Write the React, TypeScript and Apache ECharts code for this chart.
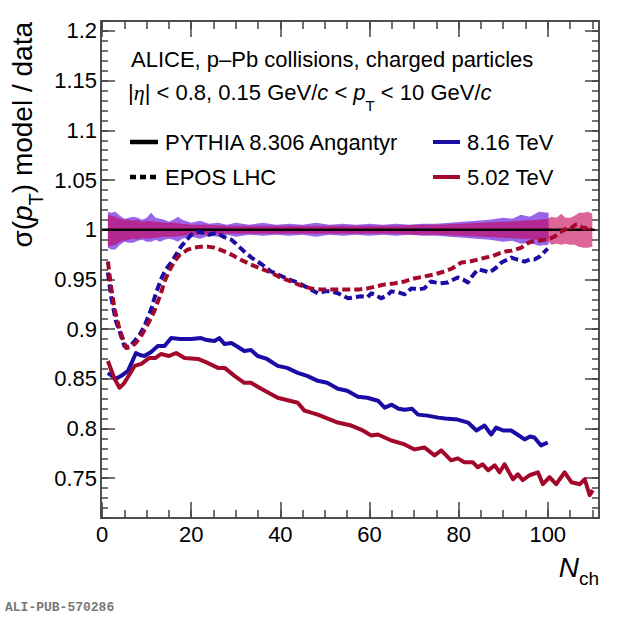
import React, { useEffect, useRef } from 'react';
import * as echarts from 'echarts';

// axis ticks
const xMajorTicks = [0, 20, 40, 60, 80, 100];
const xMinorTicks = [0, 5, 10, 15, 20, 25, 30, 35, 40, 45, 50, 55, 60, 65, 70, 75, 80, 85, 90, 95, 100, 105, 110];
const yMajorTicks = [0.75, 0.8, 0.85, 0.9, 0.95, 1, 1.05, 1.1, 1.15, 1.2];

// PYTHIA 8.306 Angantyr, 8.16 TeV (solid blue)
const pythia816 = [
  [1.3, 0.856], [2.2, 0.853], [3.1, 0.85], [4.3, 0.853], [5.8, 0.858], [6.8, 0.868], [7.6, 0.876],
  [8.5, 0.874], [9.5, 0.873], [11, 0.877], [12.5, 0.883], [14, 0.883], [15.5, 0.891], [17.5, 0.89],
  [20, 0.89], [22.2, 0.891], [23.5, 0.889], [25.2, 0.888], [26.3, 0.891], [27.5, 0.885], [29, 0.886],
  [30.5, 0.882], [31.9, 0.878], [33.4, 0.879], [34.9, 0.873], [37, 0.87], [39.4, 0.863], [41.5, 0.861],
  [43.9, 0.856], [46, 0.853], [48.4, 0.848], [50.5, 0.846], [52.9, 0.84], [55, 0.838], [57.4, 0.832],
  [59.5, 0.831], [61.9, 0.828], [63.4, 0.821], [65, 0.824], [66.5, 0.82], [67.9, 0.819], [69.5, 0.82],
  [70.9, 0.814], [73, 0.813], [75.4, 0.811], [77, 0.81], [79.8, 0.809], [82.1, 0.806], [84, 0.798],
  [85.8, 0.803], [87.3, 0.794], [88.4, 0.801], [90, 0.798], [91.8, 0.798], [93.5, 0.793], [94.8, 0.789],
  [96, 0.792], [97, 0.791], [98.5, 0.783], [100, 0.786],
];

// PYTHIA 8.306 Angantyr, 5.02 TeV (solid red)
const pythia502 = [
  [1.3, 0.868], [2.8, 0.85], [3.9, 0.841], [5, 0.846], [7.3, 0.863], [8.8, 0.865], [10.6, 0.871],
  [12, 0.871], [13.2, 0.875], [15, 0.873], [16.6, 0.876], [18.5, 0.871], [21.5, 0.87], [23.7, 0.866],
  [26, 0.861], [27.5, 0.861], [29.7, 0.853], [31.9, 0.846], [33.4, 0.846], [35.7, 0.84], [39.4, 0.831],
  [43.9, 0.826], [45.4, 0.818], [48.4, 0.814], [52.9, 0.806], [55.9, 0.803], [58.1, 0.799], [60.4, 0.793],
  [61.9, 0.794], [64.9, 0.788], [67.9, 0.784], [70.1, 0.779], [72.3, 0.781], [74.6, 0.773], [76.1, 0.778],
  [78.3, 0.768], [79.8, 0.77], [81.3, 0.766], [83.2, 0.766], [84.3, 0.761], [85.4, 0.764], [86.6, 0.758],
  [88.1, 0.763], [89.2, 0.756], [90.3, 0.764], [92.2, 0.749], [93.3, 0.754], [94.4, 0.748], [95.9, 0.753],
  [97.8, 0.756], [98.9, 0.744], [100.4, 0.751], [101.9, 0.744], [103.8, 0.756], [105.3, 0.746],
  [107.2, 0.744], [108.3, 0.749], [109.4, 0.733], [110.1, 0.738],
];

// EPOS LHC, 8.16 TeV (dashed blue)
const epos816 = [
  [1.3, 0.957], [2, 0.933], [3.1, 0.908], [3.9, 0.898], [5, 0.883], [6, 0.882], [7.3, 0.888], [8.5, 0.895],
  [9.5, 0.903], [11, 0.92], [12, 0.935], [13.2, 0.95], [14.3, 0.96], [15.5, 0.967], [17.7, 0.983], [20, 0.995],
  [21.5, 0.998], [23, 0.997], [24, 0.995], [25.6, 0.997], [27.2, 0.993], [29, 0.99], [30.5, 0.984],
  [31.9, 0.978], [33.5, 0.972], [34.9, 0.968], [36.5, 0.963], [37.9, 0.958], [39.5, 0.955], [40.9, 0.952],
  [42.5, 0.949], [43.9, 0.947], [46, 0.942], [48.4, 0.936], [50, 0.938], [51.4, 0.938], [53, 0.936],
  [55.2, 0.931], [56.5, 0.932], [58.1, 0.933], [59.5, 0.932], [60.4, 0.936], [61.5, 0.934], [62.6, 0.931],
  [64, 0.934], [64.9, 0.938], [66.5, 0.937], [67.9, 0.935], [69.4, 0.941], [71, 0.94], [72.3, 0.941],
  [73.8, 0.948], [75.5, 0.946], [77.6, 0.947], [79.8, 0.952], [81, 0.95], [82.1, 0.947], [83, 0.953],
  [84.3, 0.96], [85.5, 0.959], [86.9, 0.957], [88.2, 0.961], [89.6, 0.967], [91.8, 0.972], [93.2, 0.97],
  [94.8, 0.968], [96, 0.97], [97, 0.97], [98.2, 0.973], [99.3, 0.978], [100, 0.981],
];

// EPOS LHC, 5.02 TeV (dashed red)
const epos502 = [
  [1.3, 0.968], [2, 0.943], [2.8, 0.92], [3.9, 0.9], [5.4, 0.881], [6.3, 0.882], [7.3, 0.885], [8.5, 0.891],
  [9.5, 0.899], [10.6, 0.908], [11.7, 0.918], [13.2, 0.936], [14, 0.948], [15, 0.958], [16.2, 0.968],
  [17.5, 0.975], [19.2, 0.98], [20.7, 0.982], [22.2, 0.983], [23.7, 0.983], [25.2, 0.982], [27, 0.979],
  [29, 0.975], [31, 0.97], [33.4, 0.965], [35.5, 0.961], [37.9, 0.957], [40, 0.952], [42.4, 0.948],
  [44.5, 0.944], [46.9, 0.941], [49, 0.94], [51.4, 0.94], [53.5, 0.94], [55.9, 0.94], [57.8, 0.94],
  [59.6, 0.941], [61.5, 0.943], [63.4, 0.945], [65.5, 0.946], [67.9, 0.948], [70, 0.951], [72.3, 0.953],
  [74.5, 0.955], [76.8, 0.958], [78.5, 0.961], [80.6, 0.967], [82.5, 0.968], [84.3, 0.97], [86, 0.972],
  [87.3, 0.973], [89, 0.976], [90.3, 0.978], [92, 0.979], [94.1, 0.982], [95.3, 0.986], [96.3, 0.988],
  [97.8, 0.989], [99.3, 0.99], [100.5, 0.991], [101.5, 0.993], [102.5, 0.997], [103.8, 1.0], [104.5, 1.003],
  [105.3, 1.002], [106.2, 1.005], [106.8, 1.005], [107.5, 1.003], [108.3, 1.001], [109, 1.004], [109.6, 1.0],
];

// data uncertainty bands around unity
const bandBlueN = [1.3, 2, 3, 4, 5, 6, 7, 8, 9, 10, 11, 12, 13, 14, 15, 16, 17, 18, 20, 22, 24, 26, 28, 30, 33, 36,
  39, 42, 45, 48, 51, 54, 57, 60, 63, 66, 69, 72, 75, 78, 81, 84, 87, 90, 92, 94, 96, 98, 100.2];
const bandBlueHi = [1.018, 1.017, 1.018, 1.014, 1.011, 1.012, 1.013, 1.012, 1.01, 1.012, 1.017, 1.012, 1.011, 1.01,
  1.008, 1.01, 1.013, 1.01, 1.007, 1.009, 1.006, 1.007, 1.005, 1.007, 1.005, 1.007, 1.005, 1.006, 1.005, 1.007,
  1.005, 1.006, 1.005, 1.006, 1.005, 1.006, 1.005, 1.006, 1.006, 1.007, 1.008, 1.009, 1.01, 1.012, 1.011, 1.015,
  1.013, 1.018, 1.017];
const bandBlueLo = [0.982, 0.98, 0.98, 0.985, 0.988, 0.987, 0.987, 0.989, 0.99, 0.988, 0.988, 0.99, 0.988, 0.99,
  0.991, 0.99, 0.988, 0.991, 0.993, 0.991, 0.994, 0.993, 0.995, 0.993, 0.995, 0.994, 0.995, 0.994, 0.995, 0.993,
  0.995, 0.994, 0.995, 0.994, 0.995, 0.994, 0.995, 0.994, 0.994, 0.993, 0.992, 0.991, 0.99, 0.988, 0.989, 0.986,
  0.987, 0.984, 0.985];

const bandRedN = [1.3, 2, 3, 4, 5, 6, 7, 8, 9, 10, 12, 14, 16, 18, 20, 24, 28, 32, 36, 40, 45, 50, 55, 60, 65, 70,
  75, 80, 85, 90, 94, 98, 100, 100.8, 102, 103, 104, 105, 106, 107, 108, 109, 110];
const bandRedHi = [1.015, 1.014, 1.013, 1.011, 1.01, 1.01, 1.009, 1.01, 1.008, 1.009, 1.008, 1.007, 1.007, 1.006,
  1.005, 1.005, 1.004, 1.004, 1.004, 1.004, 1.004, 1.004, 1.004, 1.004, 1.004, 1.005, 1.005, 1.006, 1.007, 1.008,
  1.009, 1.01, 1.011, 1.013, 1.012, 1.016, 1.012, 1.012, 1.014, 1.017, 1.017, 1.018, 1.016];
const bandRedLo = [0.983, 0.984, 0.985, 0.988, 0.989, 0.99, 0.991, 0.99, 0.992, 0.991, 0.992, 0.993, 0.993, 0.994,
  0.995, 0.995, 0.996, 0.996, 0.996, 0.996, 0.996, 0.996, 0.996, 0.996, 0.996, 0.995, 0.995, 0.994, 0.993, 0.992,
  0.991, 0.99, 0.989, 0.985, 0.986, 0.985, 0.986, 0.985, 0.985, 0.983, 0.982, 0.982, 0.983];

const unityLine = [[0, 1], [110.5, 1]];

const X_MIN = -0.25;
const X_MAX = 111.5;
const Y_MIN = 0.71;
const Y_MAX = 1.21;
const AXIS_COLOR = '#444';
const FONT = 'Liberation Sans';
const BLUE = '#1c0ca6';
const RED = '#a3082b';

type Seg = { text: string; size: number; italic?: boolean; family?: string; dy?: number };

// lays out mixed-font text (italics, subscripts) as a group of text pieces
let measureCtx: CanvasRenderingContext2D | null = null;
const measure = (s: Seg) => {
  if (!measureCtx) measureCtx = document.createElement('canvas').getContext('2d');
  measureCtx!.font = `${s.italic ? 'italic ' : ''}${s.size}px "${s.family || FONT}"`;
  return measureCtx!.measureText(s.text).width;
};

const latex = (segs: Seg[], x: number, y: number, align: 'left' | 'right', rotation = 0) => {
  const widths = segs.map(measure);
  const total = widths.reduce((a, b) => a + b, 0);
  let cx = align === 'right' ? -total : 0;
  const children = segs.map((s, i) => {
    const el = {
      type: 'text',
      x: cx,
      y: s.dy || 0,
      style: {
        text: s.text,
        fontSize: s.size,
        fontFamily: s.family || FONT,
        fontStyle: s.italic ? 'italic' : 'normal',
        fill: '#000',
        align: 'left',
        verticalAlign: 'middle',
      },
    };
    cx += widths[i];
    return el;
  });
  return { type: 'group', x, y, rotation, children };
};

const xAxisFor = (position: string, ticks: number[], len: number, labels: boolean) => ({
  type: 'value',
  position,
  min: X_MIN,
  max: X_MAX,
  axisLine: { show: true, onZero: false, lineStyle: { color: AXIS_COLOR, width: 1.5 } },
  axisTick: { show: true, inside: true, length: len, customValues: ticks, lineStyle: { color: AXIS_COLOR, width: 1.5 } },
  axisLabel: labels
    ? { show: true, customValues: xMajorTicks, fontSize: 22, fontFamily: FONT, color: '#000', margin: 5 }
    : { show: false },
  splitLine: { show: false },
});

const yAxisFor = (position: string, major: boolean, labels: boolean) => ({
  type: 'value',
  position,
  min: Y_MIN,
  max: Y_MAX,
  interval: major ? undefined : 0.01,
  axisLine: { show: true, onZero: false, lineStyle: { color: AXIS_COLOR, width: 1.5 } },
  axisTick: {
    show: true,
    inside: true,
    length: major ? 14 : 7,
    customValues: major ? yMajorTicks : undefined,
    lineStyle: { color: AXIS_COLOR, width: 1.5 },
  },
  axisLabel: labels
    ? {
        show: true,
        customValues: yMajorTicks,
        fontSize: 22,
        fontFamily: FONT,
        color: '#000',
        margin: 4,
        formatter: (v: number) => String(+v.toFixed(2)),
      }
    : { show: false },
  splitLine: { show: false },
});

const bandSeries = (ns: number[], hi: number[], lo: number[], fill: string) => ({
  type: 'custom',
  xAxisIndex: 0,
  yAxisIndex: 0,
  silent: true,
  z: 1,
  data: [[ns[0], 1]],
  renderItem: (params: any, api: any) => {
    const top = ns.map((n, i) => api.coord([n, hi[i]]));
    const bottom = ns.map((n, i) => api.coord([n, lo[i]])).reverse();
    return { type: 'polygon', shape: { points: [...top, ...bottom] }, style: { fill } };
  },
});

const lineSeries = (name: string, data: number[][], color: string, dashed: boolean) => ({
  name,
  type: 'line',
  xAxisIndex: 0,
  yAxisIndex: 0,
  data,
  showSymbol: false,
  symbol: 'none',
  z: 3,
  lineStyle: { color, width: 4, type: dashed ? [8, 4] : 'solid', cap: 'butt', join: 'round' },
});

const plainText = (text: string, x: number, y: number) => ({
  type: 'text',
  x,
  y,
  style: { text, fontSize: 22, fontFamily: FONT, fill: '#000', verticalAlign: 'middle' },
});

const App: React.FC = () => {
  const chartRef = useRef<HTMLDivElement | null>(null);

  useEffect(() => {
    if (!chartRef.current) return;
    const chart = echarts.init(chartRef.current, undefined, { renderer: 'svg' });

    const option = {
      animation: false,
      grid: { left: 101, top: 21, width: 498, height: 497, containLabel: false },
      xAxis: [
        xAxisFor('bottom', xMajorTicks, 16, true),
        xAxisFor('bottom', xMinorTicks, 8, false),
        xAxisFor('top', xMajorTicks, 16, false),
        xAxisFor('top', xMinorTicks, 8, false),
      ],
      yAxis: [
        yAxisFor('left', true, true),
        yAxisFor('left', false, false),
        yAxisFor('right', true, false),
        yAxisFor('right', false, false),
      ],
      series: [
        bandSeries(bandBlueN, bandBlueHi, bandBlueLo, 'rgba(85,0,221,0.6)'),
        bandSeries(bandRedN, bandRedHi, bandRedLo, 'rgba(198,0,85,0.6)'),
        {
          type: 'line',
          xAxisIndex: 0,
          yAxisIndex: 0,
          data: unityLine,
          showSymbol: false,
          symbol: 'none',
          z: 2,
          lineStyle: { color: '#000', width: 2.5 },
        },
        lineSeries('EPOS LHC 8.16 TeV', epos816, BLUE, true),
        lineSeries('EPOS LHC 5.02 TeV', epos502, RED, true),
        lineSeries('PYTHIA 8.16 TeV', pythia816, BLUE, false),
        lineSeries('PYTHIA 5.02 TeV', pythia502, RED, false),
      ],
      graphic: [
        plainText('ALICE, p\u2013Pb collisions, charged particles', 131, 59),
        latex(
          [
            { text: '|', size: 22 },
            { text: '\u03b7', size: 22, italic: true, family: 'Liberation Serif' },
            { text: '| < 0.8, 0.15 GeV/', size: 22 },
            { text: 'c', size: 22, italic: true },
            { text: ' < ', size: 22 },
            { text: 'p', size: 22, italic: true },
            { text: 'T', size: 15, dy: 13 },
            { text: ' < 10 GeV/', size: 22 },
            { text: 'c', size: 22, italic: true },
          ],
          128,
          92,
          'left'
        ),
        // legend
        { type: 'line', shape: { x1: 130, y1: 142, x2: 158, y2: 142 }, style: { stroke: '#000', lineWidth: 4.5 } },
        { type: 'line', shape: { x1: 130, y1: 177, x2: 158, y2: 177 }, style: { stroke: '#000', lineWidth: 4.5, lineDash: [6, 4] } },
        { type: 'line', shape: { x1: 433, y1: 142, x2: 460, y2: 142 }, style: { stroke: BLUE, lineWidth: 4 } },
        { type: 'line', shape: { x1: 433, y1: 177, x2: 460, y2: 177 }, style: { stroke: RED, lineWidth: 4 } },
        plainText('PYTHIA 8.306 Angantyr', 165, 142),
        plainText('EPOS LHC', 165, 177),
        plainText('8.16 TeV', 467, 142),
        plainText('5.02 TeV', 467, 177),
        // y-axis title
        latex(
          [
            { text: '\u03c3(', size: 28 },
            { text: 'p', size: 28, italic: true },
            { text: 'T', size: 20, dy: 14 },
            { text: ') model / data', size: 28 },
          ],
          22,
          22,
          'right',
          Math.PI / 2
        ),
        // x-axis title
        latex(
          [
            { text: 'N', size: 28, italic: true },
            { text: 'ch', size: 19, dy: 11 },
          ],
          599,
          567,
          'right'
        ),
        {
          type: 'text',
          x: 5,
          y: 607,
          style: {
            text: 'ALI-PUB-570286',
            fontSize: 13,
            fontWeight: 'bold',
            fontFamily: 'Liberation Mono',
            fill: '#777',
            verticalAlign: 'middle',
          },
        },
      ],
    };

    chart.setOption(option as any);

    return () => {
      chart.dispose();
    };
  }, []);

  return (
    <div
      ref={chartRef}
      style={{ position: 'absolute', left: 0, top: 0, width: '620px', height: '620px', background: '#fff' }}
    />
  );
};

export default App;
